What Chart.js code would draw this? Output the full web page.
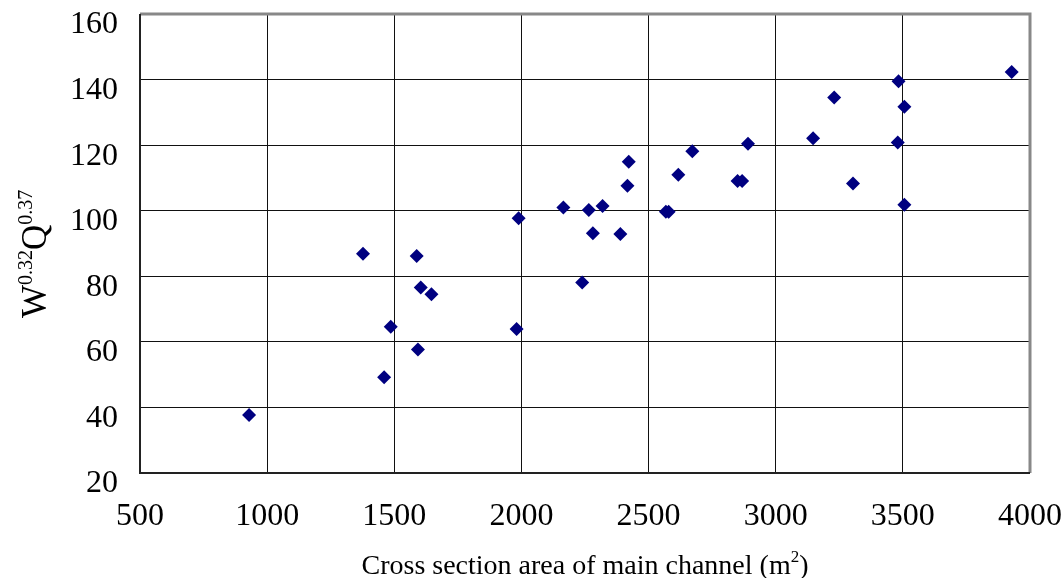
<!DOCTYPE html>
<html>
<head>
<meta charset="utf-8">
<script src="https://cdn.jsdelivr.net/npm/chart.js@4/dist/chart.umd.min.js"></script>
<style>
  html, body { margin: 0; padding: 0; background: #fff; }
  #wrap { width: 1064px; height: 578px; position: relative; }
</style>
</head>
<body>
<div id="wrap"><canvas id="c" width="1064" height="578"></canvas></div>
<script>
// Data
const areaValues = [929, 1377, 1460, 1486, 1588, 1593, 1604, 1646, 1981, 1989, 2165, 2239, 2265, 2281, 2319, 2389, 2417, 2422, 2568, 2579, 2617, 2672, 2850, 2868, 2891, 3147, 3230, 3304, 3480, 3483, 3506, 3506, 3928];
const wqValues = [37.7, 86.9, 49.2, 64.6, 86.2, 57.7, 76.6, 74.5, 63.9, 97.7, 101, 78.1, 100.2, 93.1, 101.4, 92.9, 107.6, 114.9, 99.7, 99.7, 111, 118.1, 109.1, 109.1, 120.4, 122.1, 134.5, 108.3, 120.8, 139.5, 131.7, 101.8, 142.3];
const xTicks = [500, 1000, 1500, 2000, 2500, 3000, 3500, 4000];
const yTicks = [20, 40, 60, 80, 100, 120, 140, 160];
const xTitleMain = "Cross section area of main channel (m";
const xTitleSup = "2";
const xTitleEnd = ")";
const yTitleParts = [["W", false], ["0.32", true], ["Q", false], ["0.37", true]];

const SERIF = '"Liberation Serif", "Times New Roman", serif';
const points = areaValues.map((v, i) => ({ x: v, y: wqValues[i] }));

const framePlugin = {
  id: 'frame',
  beforeDatasetsDraw(chart) {
    const { ctx, chartArea: a } = chart;
    ctx.save();
    ctx.strokeStyle = '#888';
    ctx.lineWidth = 3;
    ctx.beginPath();
    ctx.moveTo(a.left, a.top);
    ctx.lineTo(a.right, a.top);
    ctx.lineTo(a.right, a.bottom);
    ctx.stroke();
    ctx.strokeStyle = '#222';
    ctx.lineWidth = 2;
    ctx.beginPath();
    ctx.moveTo(a.left, a.top);
    ctx.lineTo(a.left, a.bottom);
    ctx.lineTo(a.right, a.bottom);
    ctx.stroke();
    ctx.restore();
  },
  afterDraw(chart) {
    const { ctx, chartArea: a } = chart;
    ctx.save();
    ctx.fillStyle = '#000';
    ctx.textBaseline = 'alphabetic';
    // X title with superscript
    const mainF = '28px ' + SERIF, supF = '17px ' + SERIF;
    ctx.font = mainF; const w1 = ctx.measureText(xTitleMain).width;
    const w3 = ctx.measureText(xTitleEnd).width;
    ctx.font = supF; const w2 = ctx.measureText(xTitleSup).width;
    const total = w1 + w2 + w3;
    let x = (a.left + a.right) / 2 - total / 2;
    const base = 574;
    ctx.textAlign = 'left';
    ctx.font = mainF; ctx.fillText(xTitleMain, x, base); x += w1;
    ctx.font = supF; ctx.fillText(xTitleSup, x, base - 12); x += w2;
    ctx.font = mainF; ctx.fillText(xTitleEnd, x, base);
    // Y title rotated with superscripts
    ctx.translate(46, 318);
    ctx.rotate(-Math.PI / 2);
    let px = 0;
    yTitleParts.forEach(([t, sup]) => {
      ctx.font = (sup ? '20px ' : '35px ') + SERIF;
      ctx.fillText(t, px, sup ? -14 : 0);
      px += ctx.measureText(t).width;
    });
    ctx.restore();
  }
};

new Chart(document.getElementById('c'), {
  type: 'scatter',
  data: {
    datasets: [{
      data: points,
      pointStyle: 'rectRot',
      pointRadius: 7,
      pointHoverRadius: 7,
      backgroundColor: '#000080',
      borderColor: '#000080',
      borderWidth: 0
    }]
  },
  options: {
    responsive: false,
    animation: false,
    devicePixelRatio: 1,
    layout: { padding: { left: 0, top: 14, right: 34, bottom: 0 } },
    plugins: { legend: { display: false }, tooltip: { enabled: false } },
    scales: {
      x: {
        type: 'linear',
        min: 500, max: 4000,
        afterBuildTicks(s) { s.ticks = xTicks.map(v => ({ value: v })); },
        afterFit(s) { s.height = 105; s.paddingLeft = 0; s.paddingRight = 0; },
        grid: { color: '#111', lineWidth: 1, drawTicks: false },
        border: { display: false },
        ticks: { color: '#000', font: { family: SERIF, size: 32 }, padding: 24, maxRotation: 0, autoSkip: false,
                 callback: v => String(v) }
      },
      y: {
        type: 'linear',
        min: 20, max: 160,
        afterBuildTicks(s) { s.ticks = yTicks.map(v => ({ value: v })); },
        afterFit(s) { s.width = 140; s.paddingTop = 0; s.paddingBottom = 0; },
        grid: { color: '#111', lineWidth: 1, drawTicks: false },
        border: { display: false },
        ticks: { color: '#000', font: { family: SERIF, size: 32 }, padding: 22, labelOffset: 11, autoSkip: false,
                 callback: v => String(v) }
      }
    }
  },
  plugins: [framePlugin]
});
</script>
</body>
</html>
